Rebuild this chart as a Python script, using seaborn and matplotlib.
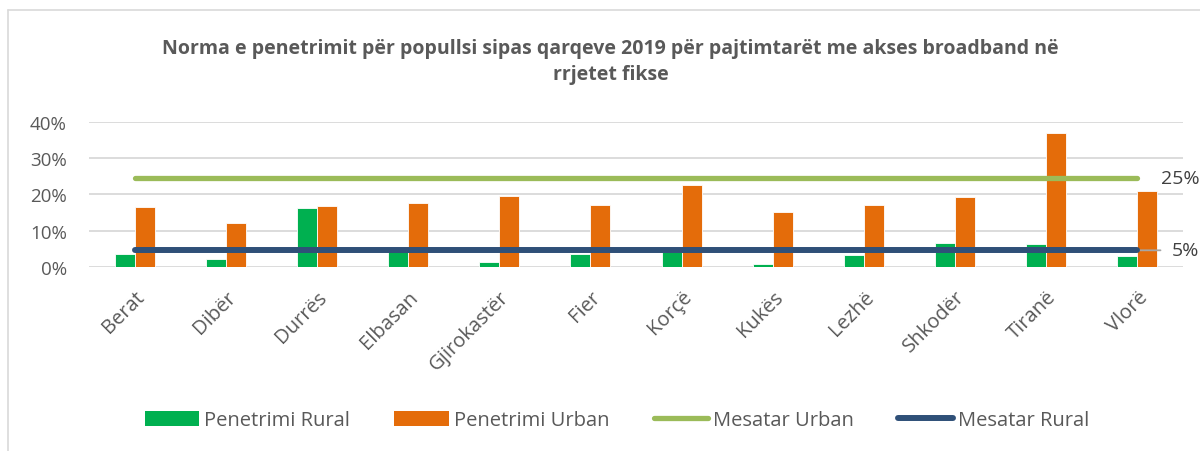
import matplotlib
matplotlib.use("Agg")
import matplotlib.pyplot as plt
import pandas as pd
import seaborn as sns
from matplotlib.lines import Line2D
from matplotlib.patches import Patch
from matplotlib.ticker import PercentFormatter

# data
regions = ["Berat", "Dibër", "Durrës", "Elbasan", "Gjirokastër", "Fier",
           "Korçë", "Kukës", "Lezhë", "Shkodër", "Tiranë", "Vlorë"]
rural = [0.037, 0.021, 0.163, 0.044, 0.015, 0.036,
         0.042, 0.008, 0.032, 0.067, 0.064, 0.029]
urban = [0.165, 0.121, 0.167, 0.176, 0.197, 0.170,
         0.225, 0.151, 0.171, 0.194, 0.369, 0.210]
urban_mean = 0.246
rural_mean = 0.046

series_names = ["Penetrimi Rural", "Penetrimi Urban"]
line_names = ["Mesatar Urban", "Mesatar Rural"]
title = ("Norma e penetrimit për popullsi sipas qarqeve 2019 për pajtimtarët "
         "me akses broadband në\nrrjetet fikse")

GREEN = "#00B050"
ORANGE = "#E46C0A"
LGREEN = "#9BBB59"
NAVY = "#2F5078"
GREY_TXT = "#595959"
GRID = "#D9D9D9"

df = pd.DataFrame({
    "region": regions * 2,
    "value": rural + urban,
    "series": [series_names[0]] * len(regions) + [series_names[1]] * len(regions),
})

sns.set_theme(style="white")
plt.rcParams["font.family"] = ["Open Sans", "DejaVu Sans"]

fig = plt.figure(figsize=(12, 4.52), dpi=100)
ax = fig.add_axes([0.0742, 0.4071, 0.9116, 0.3208])

sns.barplot(
    data=df, x="region", y="value", hue="series",
    order=regions, hue_order=series_names,
    palette=[GREEN, ORANGE], saturation=1, width=0.44, gap=0,
    edgecolor="white", linewidth=0.6,
    legend=False, ax=ax,
)

#
# average lines from first to last region
#
xs = range(len(regions))
ax.plot(xs, [urban_mean] * len(regions), color=LGREEN, lw=3.8,
        solid_capstyle="round", zorder=4)
ax.plot(xs, [rural_mean] * len(regions), color=NAVY, lw=4.3,
        solid_capstyle="round", zorder=4)

last = len(regions) - 1
ax.annotate(f"{urban_mean * 100:.0f}%", xy=(last, urban_mean),
            xytext=(17, 0), textcoords="offset points",
            ha="left", va="center", fontsize=14, color="#404040",
            annotation_clip=False)
ax.annotate(f"{rural_mean * 100:.0f}%", xy=(last, rural_mean),
            xytext=(25, 0), textcoords="offset points",
            ha="left", va="center", fontsize=14, color="#404040",
            annotation_clip=False,
            arrowprops=dict(arrowstyle="-", color="#A6A6A6", lw=1.3,
                            relpos=(0, 0.5), shrinkA=6, shrinkB=0))

ax.set_xlim(-0.5, len(regions) - 0.5)
ax.set_ylim(0, 0.4)
ax.set_yticks([0, 0.1, 0.2, 0.3, 0.4])
ax.yaxis.set_major_formatter(PercentFormatter(1.0, decimals=0))
ax.grid(axis="y", color=GRID, lw=1.3)
ax.set_axisbelow(True)
sns.despine(ax=ax, left=True, bottom=True)
ax.set_xlabel("")
ax.set_ylabel("")
ax.tick_params(axis="y", length=0, pad=16, labelsize=13.5, labelcolor=GREY_TXT)
ax.tick_params(axis="x", length=0, pad=14, labelsize=14.5, labelcolor=GREY_TXT)
plt.setp(ax.get_xticklabels(), rotation=45, ha="right", rotation_mode="anchor")

fig.text(0.509, 0.862, title, ha="center", va="center", fontsize=14,
         fontweight="bold", color=GREY_TXT, linespacing=1.4)

handles = [
    Patch(facecolor=GREEN, edgecolor="none"),
    Patch(facecolor=ORANGE, edgecolor="none"),
    Line2D([], [], color=LGREEN, lw=3.8, solid_capstyle="round"),
    Line2D([], [], color=NAVY, lw=4.3, solid_capstyle="round"),
]
leg = fig.legend(handles, series_names + line_names, loc="center",
                 bbox_to_anchor=(0.514, 0.068), ncol=4, frameon=False,
                 fontsize=14.5, handlelength=2.7, handleheight=0.8,
                 handletextpad=0.25, columnspacing=2.2)
for t in leg.get_texts():
    t.set_color(GREY_TXT)

# outer chart frame (only top and left edges visible in the crop)
frame_x = 8 / 1200
frame_y = 1 - 11 / 452
fig.add_artist(Line2D([frame_x, frame_x], [0, frame_y], color=GRID, lw=1.2,
                      transform=fig.transFigure))
fig.add_artist(Line2D([frame_x, 1], [frame_y, frame_y], color=GRID, lw=1.2,
                      transform=fig.transFigure))

fig.savefig("out.png", dpi=100)
